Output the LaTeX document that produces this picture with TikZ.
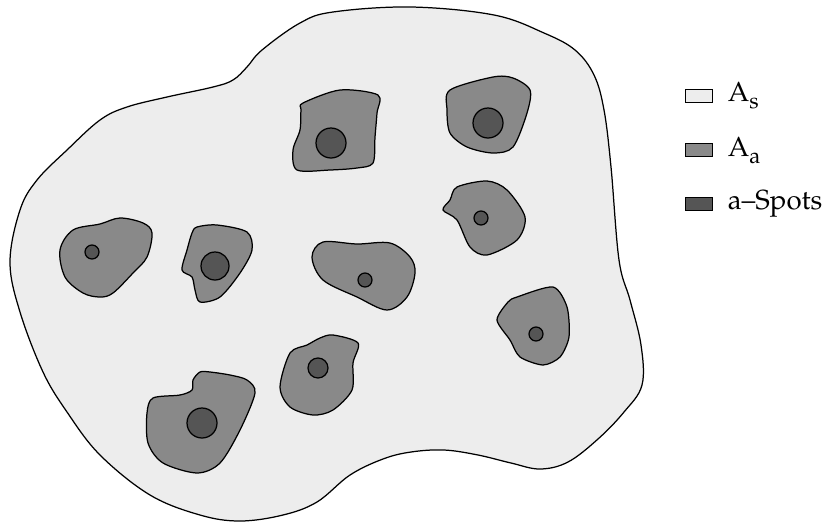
\documentclass[tikz,border=0pt]{standalone}
\usepackage[T1]{fontenc}
\usepackage{mathpazo}
\usepackage{tikz}
\usetikzlibrary{positioning}
\definecolor{sgray}{RGB}{237, 237, 237}
\definecolor{agray}{RGB}{137, 137, 137}
\definecolor{spotgray}{RGB}{85, 85, 85}
\newcommand{\lowsub}[1]{\raisebox{-2.5pt}{\footnotesize #1}}

\begin{document}
\begin{tikzpicture}[x=0.362pt, y=-0.362pt,
    sarea/.style={draw=black, line width=0.45pt, fill=sgray},
    aarea/.style={draw=black, line width=0.45pt, fill=agray},
    aspot/.style={draw=black, line width=0.45pt, fill=spotgray},
    legbox/.style={draw=black, line width=0.45pt, minimum width=10pt, minimum height=4.7pt, inner sep=0pt},
    legtext/.style={right=5pt of #1, inner sep=0pt, font=\normalsize}]
    \useasboundingbox (0,0) rectangle (823,524);

    % --- Outer region A_s ---
    \draw[sarea] plot[smooth cycle, tension=0.6] coordinates {
        (411,7) (494,15) (544,33) (575,50) (594,75) (604,110) (611,167) (619,260)
        (630,300) (641,345) (642,385) (624,412) (598,439) (568,462) (540,469) (511,463)
        (478,455) (444,450) (411,452) (383,459) (350,475) (317,502) (283,515) (240,521)
        (200,515) (150,495) (100,455) (67,412) (43,372) (20,312) (10,262) (20,210)
        (37,180) (67,150) (100,120) (127,107) (167,97) (213,87) (233,80) (247,67)
        (262,50) (300,23) (333,12)};

    % --- Regions A_a with their a-Spots ---
    % oben links
    \draw[aarea] plot[smooth cycle, tension=0.5] coordinates {
        (303,103) (340,90) (378,95) (377,113) (375,137) (373,163) (357,168)
        (330,170) (297,170) (293,150) (300,130) (301,110)};
    \draw[aspot] (331,143) circle (15);

    % oben rechts
    \draw[aarea] plot[smooth cycle, tension=0.5] coordinates {
        (450,90) (493,77) (513,78) (530,90) (527,113) (513,147) (493,153)
        (467,147) (450,133) (447,110)};
    \draw[aspot] (488,123) circle (15);

    % links
    \draw[aarea] plot[smooth cycle, tension=0.55] coordinates {
        (120,218) (100,224) (73,230) (60,250) (65,277) (83,293) (100,297)
        (113,293) (133,273) (147,257) (152,233) (143,223)};
    \draw[aspot] (92,252) circle (7);

    % links mitte
    \draw[aarea] plot[smooth cycle, tension=0.5] coordinates {
        (197,227) (217,225) (247,232) (252,250) (240,273) (220,297) (200,302)
        (195,290) (192,277) (182,270) (187,250) (192,233)};
    \draw[aspot] (215,266) circle (14);

    % mitte
    \draw[aarea] plot[smooth cycle, tension=0.55] coordinates {
        (323,242) (357,244) (390,243) (410,257) (415,273) (407,297) (387,310)
        (357,297) (323,280) (312,257)};
    \draw[aspot] (365,280) circle (7);

    % rechts oben
    \draw[aarea] plot[smooth cycle, tension=0.5] coordinates {
        (457,187) (487,181) (507,190) (525,217) (517,240) (487,255) (470,247)
        (457,220) (443,210) (450,200)};
    \draw[aspot] (481,218) circle (7);

    % rechts unten
    \draw[aarea] plot[smooth cycle, tension=0.45] coordinates {
        (553,287) (567,307) (569,337) (560,357) (543,365) (520,357) (510,340)
        (497,320) (508,302) (517,297)};
    \draw[aspot] (536,334) circle (7);

    % unten mitte
    \draw[aarea] plot[smooth cycle, tension=0.5] coordinates {
        (333,335) (358,343) (353,363) (352,390) (333,410) (313,415) (290,407)
        (280,387) (290,353) (307,345) (320,338)};
    \draw[aspot] (318,368) circle (10);

    % unten links
    \draw[aarea] plot[smooth cycle, tension=0.5] coordinates {
        (200,372) (193,380) (192,390) (180,395) (153,398) (147,413) (148,443)
        (163,463) (197,473) (220,463) (240,430) (255,393) (247,380) (230,375)
        (210,372)};
    \draw[aspot] (202,423) circle (15);

    % --- Legende ---
    \node[legbox, fill=sgray] (legs) at (699,96) {};
    \node[legtext=legs] (legstext) {A\lowsub{s}};
    \node[legbox, fill=agray] (lega) at (699,150) {};
    \node[legtext=lega] (legatext) {A\lowsub{a}};
    \node[legbox, fill=spotgray] (legspot) at (699,204) {};
    \node[legtext=legspot] (legspottext) {a--Spots};
\end{tikzpicture}
\end{document}
